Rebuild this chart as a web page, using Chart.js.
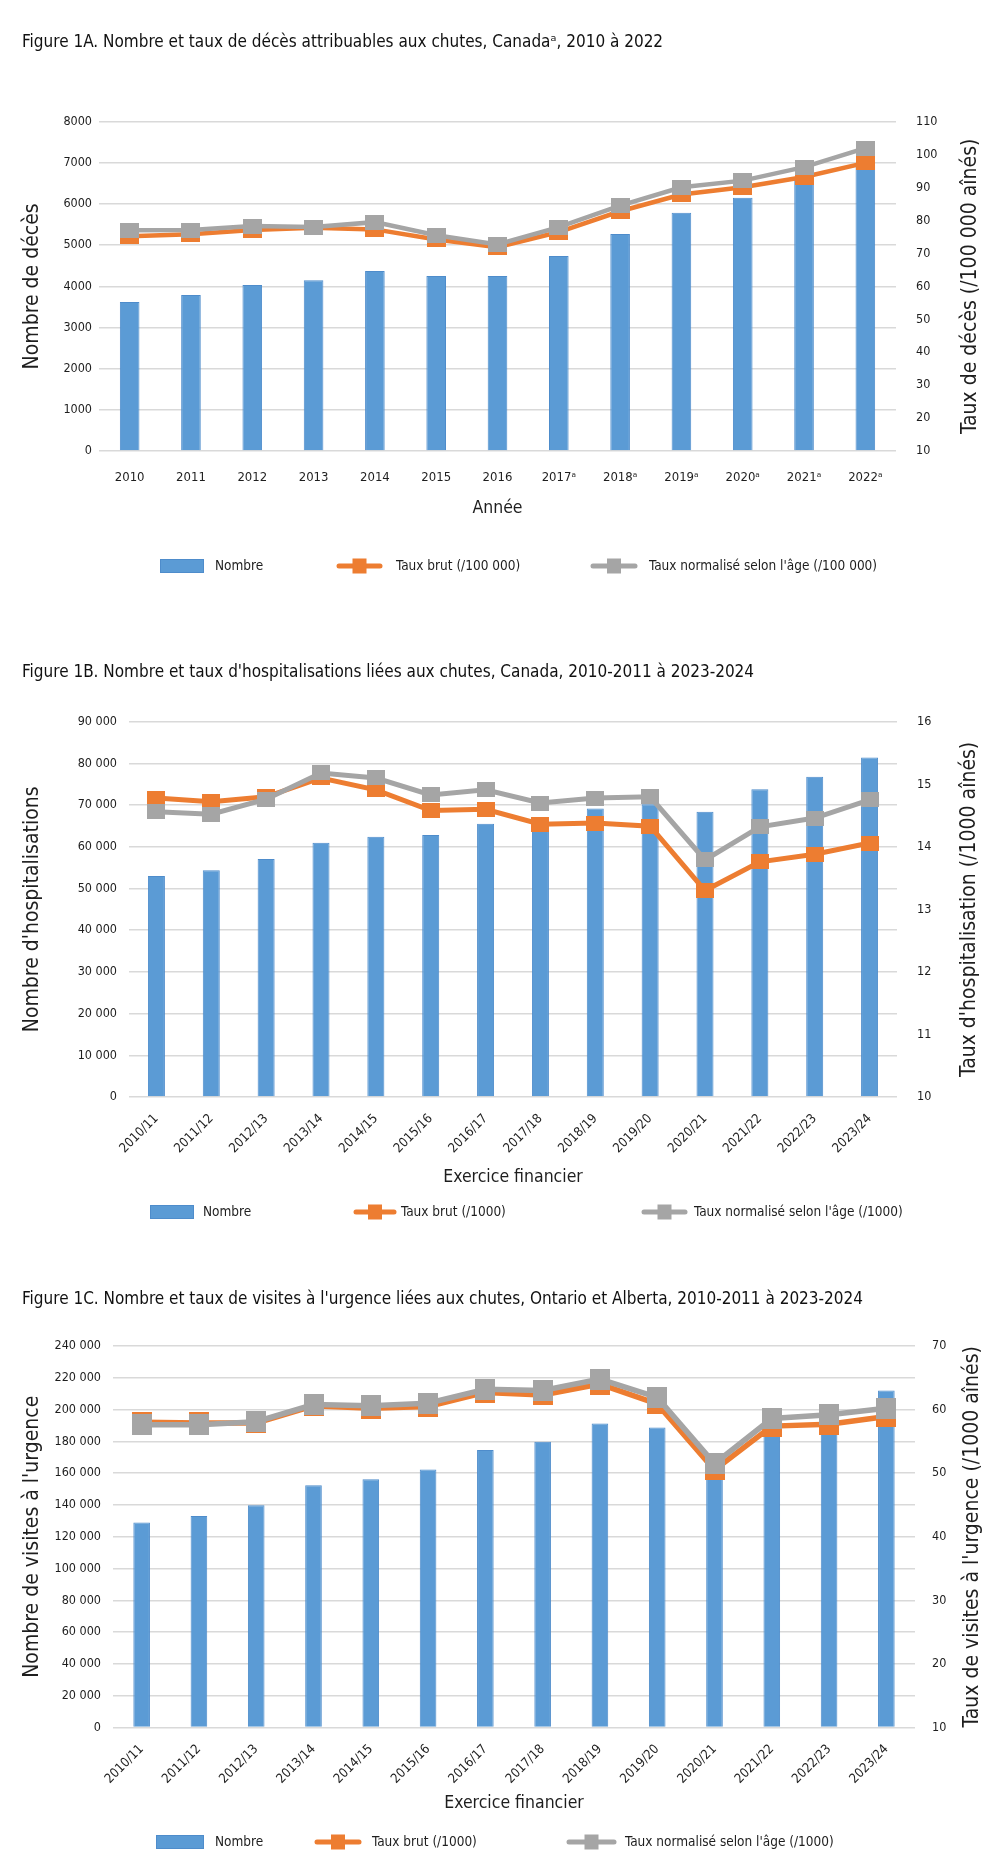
<!DOCTYPE html>
<html lang="fr">
<head>
<meta charset="utf-8">
<title>Chutes chez les aînés, figures 1A à 1C</title>
<script src="https://cdn.jsdelivr.net/npm/chart.js@4.4.1/dist/chart.umd.min.js"></script>
<style>
  html, body { margin: 0; padding: 0; background: #fff; }
  #page { position: relative; width: 1000px; height: 1862px; overflow: hidden; }
  .bloc { position: absolute; left: 0; width: 1000px; }
  canvas { display: block; }
</style>
</head>
<body>
<div id="page">
  <div class="bloc" style="top:0"><canvas id="figA" width="1000" height="600"></canvas></div>
  <div class="bloc" style="top:600px"><canvas id="figB" width="1000" height="630"></canvas></div>
  <div class="bloc" style="top:1230px"><canvas id="figC" width="1000" height="632"></canvas></div>
</div>
<script>
// Figure 1A : décès
const anneesA = ['2010', '2011', '2012', '2013', '2014', '2015', '2016',
  '2017ᵃ', '2018ᵃ', '2019ᵃ', '2020ᵃ', '2021ᵃ', '2022ᵃ'];
const decesNombre = [3620, 3790, 4030, 4150, 4370, 4250, 4250, 4740, 5270, 5790, 6150, 6600, 6950];
const decesTauxBrut = [75.2, 75.8, 77.1, 77.8, 77.3, 74.2, 71.9, 76.5, 82.8, 87.9, 90.1, 93.2, 97.5];
const decesTauxNorm = [77.0, 77.1, 78.3, 78.0, 79.5, 75.5, 72.7, 78.0, 84.5, 90.1, 92.1, 96.2, 102.0];

// Figure 1B : hospitalisations
const exercices = ['2010/11', '2011/12', '2012/13', '2013/14', '2014/15', '2015/16', '2016/17',
  '2017/18', '2018/19', '2019/20', '2020/21', '2021/22', '2022/23', '2023/24'];
const hospNombre = [53000, 54400, 57100, 61000, 62400, 62800, 65500, 67000, 69200, 70200, 68400, 73800, 76800, 81400];
const hospTauxBrut = [14.78, 14.72, 14.80, 15.10, 14.91, 14.58, 14.60, 14.36, 14.38, 14.33, 13.30, 13.76, 13.88, 14.06];
const hospTauxNorm = [14.56, 14.52, 14.76, 15.18, 15.10, 14.83, 14.91, 14.70, 14.78, 14.80, 13.79, 14.32, 14.46, 14.75];

// Figure 1C : visites à l'urgence (Ontario et Alberta)
const urgNombre = [129000, 133100, 139800, 152400, 156200, 162300, 174500, 179700, 191300, 188800, 160000, 186000, 188000, 212000];
const urgTauxBrut = [58.0, 57.9, 57.9, 60.6, 60.2, 60.5, 62.7, 62.3, 64.0, 60.9, 50.5, 57.4, 57.7, 58.9];
const urgTauxNorm = [57.6, 57.6, 58.1, 60.8, 60.6, 61.0, 63.2, 63.0, 64.8, 61.9, 51.5, 58.6, 59.2, 60.2];

// ticks des axes : [min, max, pas]
const ticksA = { gauche: [0, 8000, 1000], droite: [10, 110, 10] };
const ticksB = { gauche: [0, 90000, 10000], droite: [10, 16, 1] };
const ticksC = { gauche: [0, 240000, 20000], droite: [10, 70, 10] };

const FAMILLE = "'Liberation Sans Narrow', 'DejaVu Sans Condensed', 'Arial Narrow', sans-serif";
const BLEU = '#5b9bd5';
const ORANGE = '#ed7d31';
const GRIS = '#a5a5a5';
const TEXTE = '#1e1e1e';

// 90 000 mais 8000
function espaces(v) {
  return v >= 10000 ? String(v).replace(/\B(?=(\d{3})+(?!\d))/g, ' ') : String(v);
}

// petit carré (marqueur) dessiné dans un canvas, utilisé comme pointStyle
function carre(couleur, w, h) {
  const c = document.createElement('canvas');
  c.width = w;
  c.height = h;
  const g = c.getContext('2d');
  g.fillStyle = couleur;
  g.fillRect(0, 0, w, h);
  return c;
}

// titre de l'axe droit (lu de bas en haut) + légende
const decor = {
  id: 'decor',
  afterDraw(chart, args, opts) {
    const ctx = chart.ctx;
    const ca = chart.chartArea;

    ctx.save();
    ctx.font = '21px ' + FAMILLE;
    ctx.fillStyle = TEXTE;
    ctx.textAlign = 'center';
    ctx.textBaseline = 'middle';
    ctx.translate(opts.titreDroiteX, (ca.top + ca.bottom) / 2);
    ctx.rotate(-Math.PI / 2);
    ctx.fillText(opts.titreDroite, 0, 0);
    ctx.restore();

    ctx.save();
    ctx.font = '13.5px ' + FAMILLE;
    ctx.textAlign = 'left';
    ctx.textBaseline = 'middle';
    const y = opts.legendeY;
    // ordre de la légende : Nombre, Taux brut, Taux normalisé
    [2, 1, 0].forEach((idx, i) => {
      const ds = chart.data.datasets[idx];
      const pos = opts.positions[i];
      if (ds.type === 'bar') {
        ctx.fillStyle = ds.backgroundColor;
        ctx.fillRect(pos[0], y - 7, pos[1], 14);
        ctx.strokeStyle = ds.borderColor;
        ctx.lineWidth = 1;
        ctx.strokeRect(pos[0] + 0.5, y - 6.5, pos[1] - 1, 13);
      } else {
        ctx.strokeStyle = ds.borderColor;
        ctx.lineWidth = 5;
        ctx.lineCap = 'round';
        ctx.beginPath();
        ctx.moveTo(pos[0] + 3, y);
        ctx.lineTo(pos[0] + pos[1] - 3, y);
        ctx.stroke();
        ctx.fillStyle = ds.borderColor;
        ctx.fillRect(pos[0] + pos[1] / 2 - 7, y - 7.5, 14, 15);
      }
      ctx.fillStyle = TEXTE;
      ctx.fillText(ds.label, pos[2], y);
    });
    ctx.restore();
  }
};

function figure(id, F) {
  return new Chart(document.getElementById(id), {
    type: 'bar',
    data: {
      labels: F.categories,
      datasets: [
        {
          type: 'line', label: F.noms[2], data: F.norm, yAxisID: 'y1',
          borderColor: GRIS, backgroundColor: GRIS, borderWidth: F.trait,
          pointStyle: carre(GRIS, F.marqueur[0], F.marqueur[1]), pointRadius: 10,
          order: 0
        },
        {
          type: 'line', label: F.noms[1], data: F.brut, yAxisID: 'y1',
          borderColor: ORANGE, backgroundColor: ORANGE, borderWidth: F.trait,
          pointStyle: carre(ORANGE, F.marqueur[0], F.marqueur[1]), pointRadius: 10,
          order: 1
        },
        {
          type: 'bar', label: F.noms[0], data: F.nombre, yAxisID: 'y',
          backgroundColor: BLEU, borderColor: '#4e8ccb', borderWidth: 1,
          barPercentage: F.barre, categoryPercentage: 1,
          order: 2
        }
      ]
    },
    options: {
      responsive: false,
      animation: false,
      layout: { padding: { left: 22, right: 0, top: 0, bottom: F.basPad } },
      plugins: {
        legend: { display: false },
        tooltip: { enabled: false },
        title: {
          display: true, text: F.titre, align: 'start', color: '#111',
          font: { family: FAMILLE, size: 17, weight: 'normal', lineHeight: 1.2 },
          padding: { top: F.titrePad[0], bottom: F.titrePad[1] }
        },
        decor: {
          titreDroite: F.titreD, titreDroiteX: F.titreDX,
          legendeY: F.legendeY, positions: F.legende
        }
      },
      scales: {
        x: {
          grid: { display: false },
          border: { display: false },
          ticks: {
            color: TEXTE, font: { family: FAMILLE, size: F.xTaille },
            maxRotation: F.rotation, minRotation: F.rotation,
            autoSkip: false, padding: F.xPad
          },
          title: {
            display: true, text: F.titreX, color: TEXTE,
            font: { family: FAMILLE, size: 17.5, lineHeight: 1.2 },
            padding: { top: 0, bottom: F.titreXPad }
          },
          afterFit: s => { s.height = F.hauteurX; }
        },
        y: {
          position: 'left',
          min: F.ticks.gauche[0], max: F.ticks.gauche[1],
          ticks: {
            stepSize: F.ticks.gauche[2], callback: espaces, padding: F.padG,
            color: TEXTE, font: { family: FAMILLE, size: 12.5 }
          },
          grid: { color: '#d9d9d9', lineWidth: 1.5, drawTicks: false },
          border: { display: false },
          title: {
            display: true, text: F.titreG, color: TEXTE,
            font: { family: FAMILLE, size: 21, lineHeight: 1 }, padding: 0
          },
          afterFit: s => { s.width = F.largeurG; }
        },
        y1: {
          position: 'right',
          min: F.ticks.droite[0], max: F.ticks.droite[1],
          ticks: {
            stepSize: F.ticks.droite[2], padding: F.padD,
            color: TEXTE, font: { family: FAMILLE, size: 12.5 }
          },
          grid: { display: false, drawOnChartArea: false },
          border: { display: false },
          afterFit: s => { s.width = F.largeurD; }
        }
      }
    },
    plugins: [decor]
  });
}

figure('figA', {
  titre: 'Figure 1A. Nombre et taux de décès attribuables aux chutes, Canadaᵃ, 2010 à 2022',
  categories: anneesA, nombre: decesNombre, brut: decesTauxBrut, norm: decesTauxNorm,
  noms: ['Nombre', 'Taux brut (/100 000)', "Taux normalisé selon l'âge (/100 000)"],
  ticks: ticksA,
  titreG: 'Nombre de décès', titreD: 'Taux de décès (/100 000 aînés)', titreX: 'Année',
  titrePad: [32.8, 68.5], basPad: 69, hauteurX: 80, titreXPad: 12.5, xPad: 11, rotation: 0, xTaille: 13,
  largeurG: 77, largeurD: 104, padG: 7, padD: 12, titreDX: 971,
  barre: 0.32, trait: 4.5, marqueur: [19, 15],
  legendeY: 566, legende: [[160, 44, 215], [336, 47, 396], [590, 48, 649]]
});

figure('figB', {
  titre: "Figure 1B. Nombre et taux d'hospitalisations liées aux chutes, Canada, 2010-2011 à 2023-2024",
  categories: exercices, nombre: hospNombre, brut: hospTauxBrut, norm: hospTauxNorm,
  noms: ['Nombre', 'Taux brut (/1000)', "Taux normalisé selon l'âge (/1000)"],
  ticks: ticksB,
  titreG: "Nombre d'hospitalisations", titreD: "Taux d'hospitalisation (/1000 aînés)", titreX: 'Exercice financier',
  titrePad: [62.8, 38.5], basPad: 33, hauteurX: 100, titreXPad: 9.5, xPad: 6, rotation: 45, xTaille: 13,
  largeurG: 107, largeurD: 103, padG: 12, padD: 12, titreDX: 970,
  barre: 0.31, trait: 5, marqueur: [18, 15],
  legendeY: 612, legende: [[150, 44, 203], [353, 44, 401], [641, 47, 694]]
});

figure('figC', {
  titre: "Figure 1C. Nombre et taux de visites à l'urgence liées aux chutes, Ontario et Alberta, 2010-2011 à 2023-2024",
  categories: exercices, nombre: urgNombre, brut: urgTauxBrut, norm: urgTauxNorm,
  noms: ['Nombre', 'Taux brut (/1000)', "Taux normalisé selon l'âge (/1000)"],
  ticks: ticksC,
  titreG: "Nombre de visites à l'urgence", titreD: "Taux de visites à l'urgence (/1000 aînés)", titreX: 'Exercice financier',
  titrePad: [59.8, 35.8], basPad: 34.5, hauteurX: 100, titreXPad: 14, xPad: 6, rotation: 45, xTaille: 13,
  largeurG: 91, largeurD: 85, padG: 12, padD: 9, titreDX: 973,
  barre: 0.29, trait: 5.5, marqueur: [20, 21],
  legendeY: 612, legende: [[156, 48, 215], [314, 48, 372], [566, 51, 625]]
});
</script>
</body>
</html>
